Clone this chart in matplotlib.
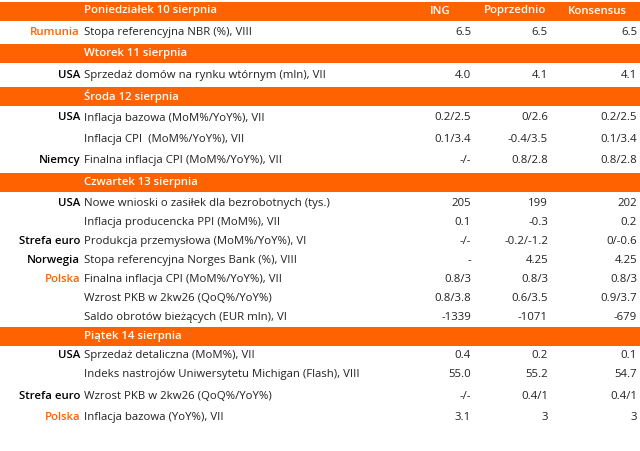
import matplotlib
matplotlib.use("Agg")
import matplotlib.pyplot as plt

ORANGE = "#FF6200"
headers_cols = ["ING", "Poprzednio", "Konsensus"]
days = ["Poniedziałek 10 sierpnia", "Wtorek 11 sierpnia", "Środa 12 sierpnia",
        "Czwartek 13 sierpnia", "Piątek 14 sierpnia"]
countries = [
    ["Rumunia"],
    ["USA"],
    ["USA", "", "Niemcy"],
    ["USA", "", "Strefa euro", "Norwegia", "Polska", "", ""],
    ["USA", "", "Strefa euro", "Polska"],
]
events = [
    ["Stopa referencyjna NBR (%), VIII"],
    ["Sprzedaż domów na rynku wtórnym (mln), VII"],
    ["Inflacja bazowa (MoM%/YoY%), VII", "Inflacja CPI  (MoM%/YoY%), VII",
     "Finalna inflacja CPI (MoM%/YoY%), VII"],
    ["Nowe wnioski o zasiłek dla bezrobotnych (tys.)", "Inflacja producencka PPI (MoM%), VII",
     "Produkcja przemysłowa (MoM%/YoY%), VI", "Stopa referencyjna Norges Bank (%), VIII",
     "Finalna inflacja CPI (MoM%/YoY%), VII", "Wzrost PKB w 2kw26 (QoQ%/YoY%)",
     "Saldo obrotów bieżących (EUR mln), VI"],
    ["Sprzedaż detaliczna (MoM%), VII", "Indeks nastrojów Uniwersytetu Michigan (Flash), VIII",
     "Wzrost PKB w 2kw26 (QoQ%/YoY%)", "Inflacja bazowa (YoY%), VII"],
]
ing = [["6.5"], ["4.0"], ["0.2/2.5", "0.1/3.4", "-/-"],
       ["205", "0.1", "-/-", "-", "0.8/3", "0.8/3.8", "-1339"],
       ["0.4", "55.0", "-/-", "3.1"]]
prev = [["6.5"], ["4.1"], ["0/2.6", "-0.4/3.5", "0.8/2.8"],
        ["199", "-0.3", "-0.2/-1.2", "4.25", "0.8/3", "0.6/3.5", "-1071"],
        ["0.2", "55.2", "0.4/1", "3"]]
cons = [["6.5"], ["4.1"], ["0.2/2.5", "0.1/3.4", "0.8/2.8"],
        ["202", "0.2", "0/-0.6", "4.25", "0.8/3", "0.9/3.7", "-679"],
        ["0.1", "54.7", "0.4/1", "3"]]
orange_countries = {"Rumunia", "Polska"}

fig = plt.figure(figsize=(6.4, 4.51), dpi=100)
ax = fig.add_axes([0, 0, 1, 1])
ax.set_xlim(0, 640)
ax.set_ylim(451, 0)
ax.axis("off")
plt.rcParams["font.family"] = ["Open Sans", "DejaVu Sans"]

# row pitch per section (layout)
pitch = [21.4] * 9 + [19.0] * 9 + [21.5] * 4
centers = []
c = 11.0
for p in pitch:
    centers.append(c)
    c += p

fs = 8.2
r = 0
for d in range(len(days)):
    yc = centers[r]
    ax.add_patch(plt.Rectangle((0, yc - 9.5), 640, 19, color=ORANGE, lw=0))
    ax.text(84, yc, days[d], color="white", fontsize=fs, fontweight="semibold", va="center")
    if d == 0:
        for lbl, x in zip(headers_cols, [440, 515, 597]):
            ax.text(x, yc, lbl, color="white", fontsize=fs, fontweight="semibold",
                    va="center", ha="center")
    r += 1
    for i in range(len(events[d])):
        y = centers[r]
        cn = countries[d][i]
        ax.text(80, y, cn, color=ORANGE if cn in orange_countries else "black",
                fontsize=fs, fontweight="semibold", va="center", ha="right")
        ax.text(84, y, events[d][i], fontsize=fs, va="center", color="#222222")
        for v, x in zip([ing[d][i], prev[d][i], cons[d][i]], [471, 548, 637]):
            ax.text(x, y, v, fontsize=fs, va="center", ha="right", color="#222222")
        r += 1

fig.savefig("out.png", dpi=100)
